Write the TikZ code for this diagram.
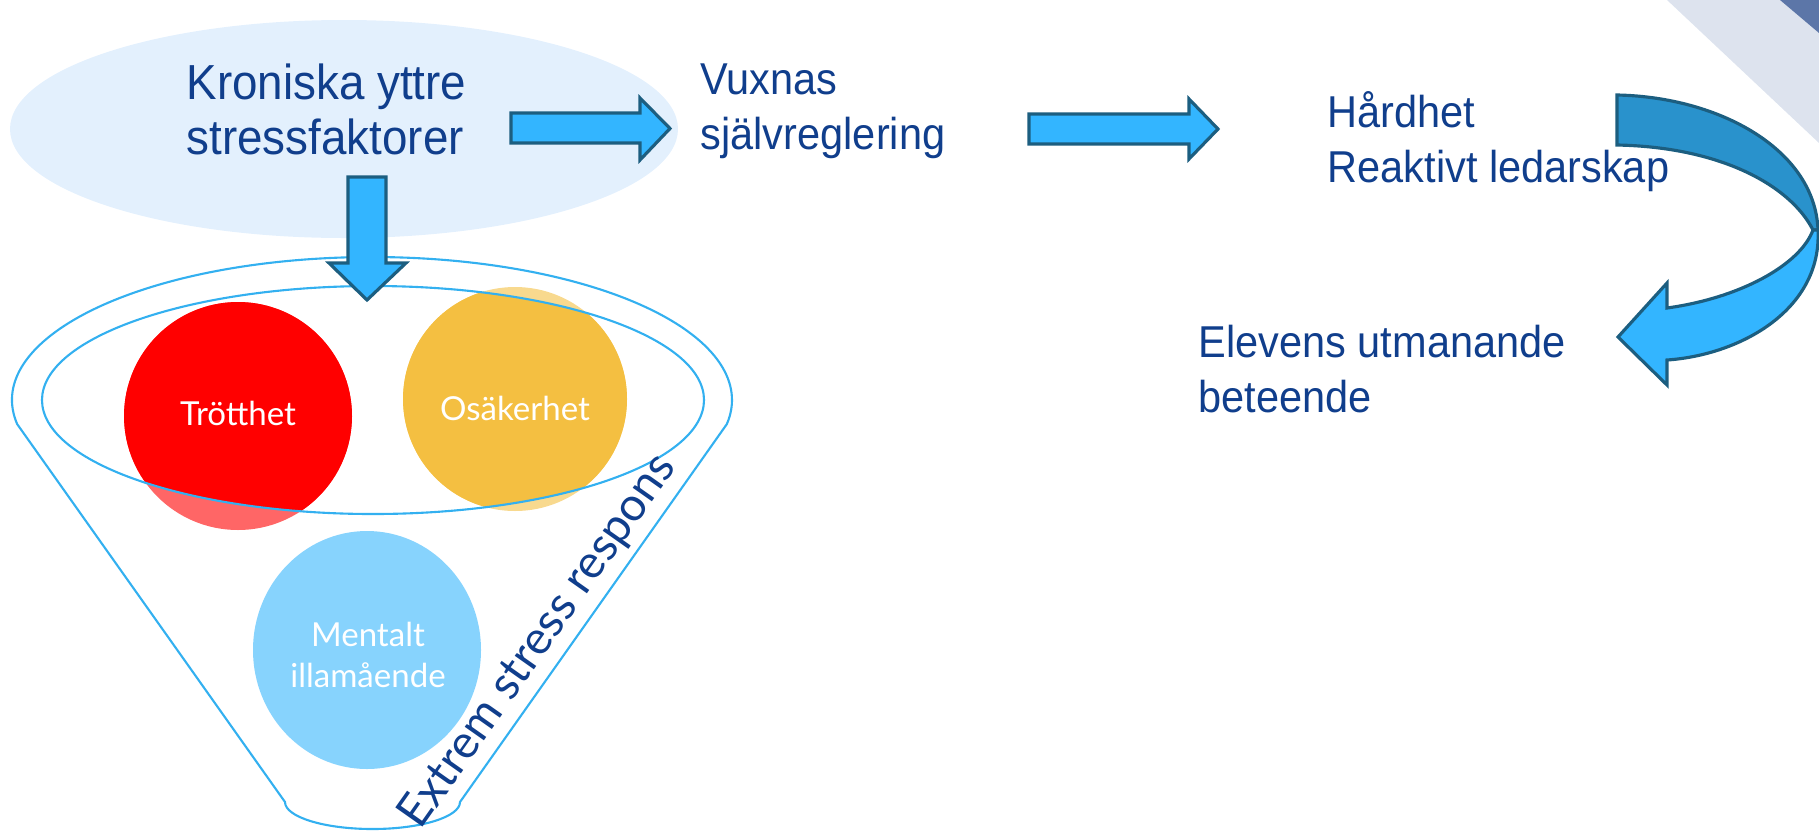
\documentclass[tikz,border=0pt]{standalone}
\usepackage{fontspec}
\setmainfont{Liberation Sans}[FakeStretch=0.93]
\newfontfamily\gillfont{Lato}
\definecolor{txtblue}{RGB}{16,62,140}
\definecolor{ellfill}{RGB}{227,240,253}
\definecolor{funnelblue}{RGB}{51,176,240}
\definecolor{arrfill}{RGB}{51,181,255}
\definecolor{arrdraw}{RGB}{28,94,128}
\definecolor{curvedark}{RGB}{41,146,204}
\definecolor{bandlight}{RGB}{221,227,238}
\definecolor{banddark}{RGB}{92,118,168}
\definecolor{trottred}{RGB}{255,0,0}
\definecolor{trottlt}{RGB}{255,102,102}
\definecolor{osakyel}{RGB}{244,191,65}
\definecolor{osaklt}{RGB}{248,217,142}
\definecolor{mentblue}{RGB}{135,211,253}
\tikzset{
  lbl/.style={anchor=base west, align=left, inner sep=0pt, text=txtblue,
    font=\fontsize{12.7}{15.4}\selectfont},
  bubtext/.style={align=center, inner sep=0pt, text=white,
    font=\gillfont\fontsize{9.4}{11.5}\selectfont},
  blockarr/.style={fill=arrfill, draw=arrdraw, line width=0.9pt, line join=miter},
  funnelline/.style={draw=funnelblue, line width=0.6pt}
}
\begin{document}
\begin{tikzpicture}
\useasboundingbox (0,0) rectangle (18.19,-8.31);
\fill[bandlight] (16.67,0) -- (18.19,0) -- (18.19,-1.43) -- cycle;
\fill[banddark] (17.80,0) -- (18.19,0) -- (18.19,-0.33) -- cycle;
\fill[ellfill] (3.44,-1.29) ellipse [x radius=3.34, y radius=1.09];
\coordinate (trottc) at (2.38,-4.16);
\coordinate (osakc) at (5.15,-3.99);
\coordinate (mentc) at (3.67,-6.50);
\coordinate (funnelc) at (3.73,-4.00);
\fill[trottlt] (trottc) circle (1.14);
\fill[osaklt] (osakc) circle (1.12);
\fill[mentblue] (mentc) ellipse [x radius=1.14, y radius=1.19];
\begin{scope}
  \clip (funnelc) ellipse [x radius=3.31, y radius=1.14];
  \fill[trottred] (trottc) circle (1.14);
  \fill[osakyel] (osakc) circle (1.12);
\end{scope}
\draw[funnelline] (3.72,-4.00) ++(189.7:3.60 and 1.43)
  arc [start angle=189.7, end angle=-9.7, x radius=3.60, y radius=1.43]
  -- (4.60,-8.02)
  arc [start angle=0, end angle=-180, x radius=0.875, y radius=0.27]
  -- cycle;
\draw[funnelline] (funnelc) ellipse [x radius=3.31, y radius=1.14];
\node[bubtext] (trott) at (2.38,-4.13) {Trötthet};
\node[bubtext] (osak) at (5.15,-4.08) {Osäkerhet};
\node[bubtext] (ment) at (3.68,-6.55) {Mentalt\\illamående};
\node[anchor=base, inner sep=0pt, rotate=54.85, text=txtblue,
  font=\gillfont\fontsize{13.2}{14}\selectfont] (extrem) at (5.49,-6.49) {Extrem stress respons};
\draw[blockarr] (5.11,-1.13) -- (6.40,-1.13) -- (6.40,-0.98) -- (6.70,-1.285)
  -- (6.40,-1.60) -- (6.40,-1.43) -- (5.11,-1.43) -- cycle;
\draw[blockarr] (10.29,-1.14) -- (11.89,-1.14) -- (11.89,-0.99) -- (12.18,-1.29)
  -- (11.89,-1.59) -- (11.89,-1.44) -- (10.29,-1.44) -- cycle;
\draw[blockarr] (3.48,-1.77) -- (3.86,-1.77) -- (3.86,-2.63) -- (4.06,-2.63)
  -- (3.67,-3.00) -- (3.29,-2.63) -- (3.48,-2.63) -- cycle;
\draw[blockarr, fill=curvedark] (16.17,-0.95) .. controls (17.20,-0.97) and (18.15,-1.50) .. (18.18,-2.30)
  -- (18.13,-2.30) .. controls (17.90,-1.85) and (17.20,-1.47) .. (16.17,-1.45) -- cycle;
\draw[blockarr] (18.18,-2.30) .. controls (18.22,-3.10) and (17.40,-3.55) .. (16.67,-3.60)
  -- (16.67,-3.85) -- (16.18,-3.37) -- (16.67,-2.83) -- (16.67,-3.08)
  .. controls (17.40,-2.98) and (18.00,-2.65) .. (18.13,-2.30) -- cycle;
\node[lbl, font=\fontsize{14}{15.4}\selectfont] (kron) at (1.86,-1.54) {Kroniska yttre\\stressfaktorer};
\node[lbl] (vuxn) at (7.00,-1.49) {Vuxnas\\självreglering};
\node[lbl] (hard) at (13.27,-1.82) {Hårdhet\\Reaktivt ledarskap};
\node[lbl] (elev) at (11.98,-4.12) {Elevens utmanande\\beteende};
\end{tikzpicture}
\end{document}
